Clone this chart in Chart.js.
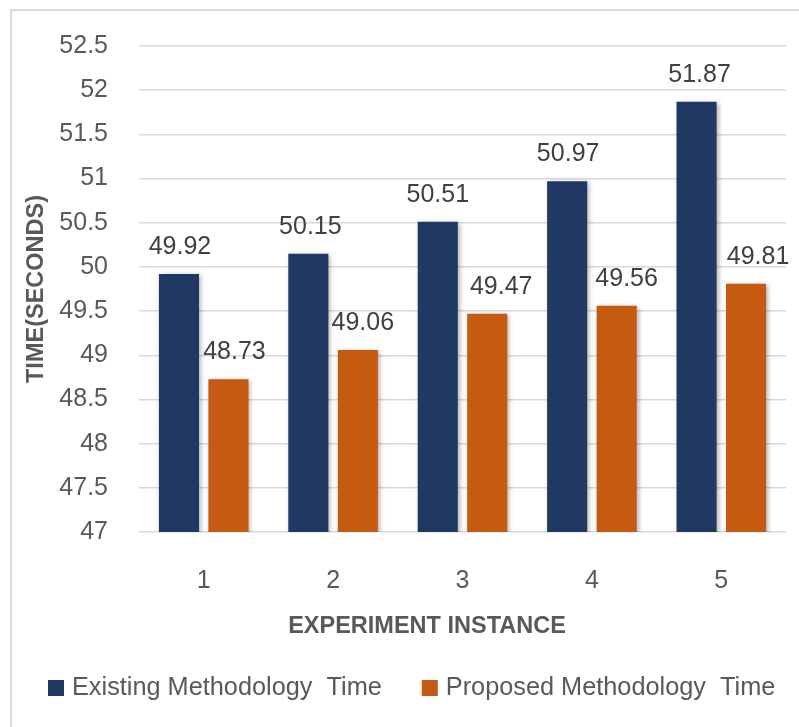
<!DOCTYPE html>
<html>
<head>
<meta charset="utf-8">
<script src="https://cdn.jsdelivr.net/npm/chart.js@4.4.1/dist/chart.umd.min.js"></script>
<style>
  html, body { margin: 0; padding: 0; background: #fff; }
  #wrap { width: 799px; height: 727px; position: relative; }
</style>
</head>
<body>
<div id="wrap"><canvas id="c" width="799" height="727"></canvas></div>
<script>
// Timing per experiment run (seconds)
const instances = ['1', '2', '3', '4', '5'];
const existingTime = [49.92, 50.15, 50.51, 50.97, 51.87];
const proposedTime = [48.73, 49.06, 49.47, 49.56, 49.81];
const seriesNames = ['Existing Methodology  Time', 'Proposed Methodology  Time'];
const xTitle = 'EXPERIMENT INSTANCE';
const yTitle = 'TIME(SECONDS)';

const FONT = "'Liberation Sans', Arial, sans-serif";
const TEXT = '#595959';
const GRID = '#d9d9d9';
// Sideways nudge (px) of each value label relative to its bar centre
const LABEL_NUDGE = [[1, 2, 0, 1, 3], [6, 5, 14, 10, 12]];

// White background plus the thin frame on the left and top edges
const framePlugin = {
  id: 'frame',
  beforeDraw(chart) {
    const ctx = chart.ctx;
    ctx.save();
    ctx.fillStyle = '#fff';
    ctx.fillRect(0, 0, chart.width, chart.height);
    ctx.strokeStyle = GRID;
    ctx.lineWidth = 2;
    ctx.beginPath();
    ctx.moveTo(11, chart.height);
    ctx.lineTo(11, 10);
    ctx.lineTo(chart.width, 10);
    ctx.stroke();
    ctx.restore();
  }
};

// Soft drop shadow under the bars, then value labels above each bar
const barDecor = {
  id: 'barDecor',
  beforeDatasetsDraw(chart) {
    const ctx = chart.ctx;
    ctx.save();
    ctx.shadowColor = 'rgba(0,0,0,0.35)';
    ctx.shadowBlur = 5;
    ctx.shadowOffsetX = 2;
    ctx.shadowOffsetY = 1;
  },
  afterDatasetsDraw(chart) {
    const ctx = chart.ctx;
    ctx.restore();
    ctx.save();
    ctx.font = '25px ' + FONT;
    ctx.fillStyle = '#404040';
    ctx.textAlign = 'center';
    ctx.textBaseline = 'alphabetic';
    chart.data.datasets.forEach((ds, di) => {
      const meta = chart.getDatasetMeta(di);
      meta.data.forEach((bar, i) => {
        ctx.fillText(ds.data[i].toFixed(2), bar.x + LABEL_NUDGE[di][i], bar.y - 20);
      });
    });
    ctx.restore();
  }
};

// Category-axis caption and the series key along the bottom
const bottomText = {
  id: 'bottomText',
  afterDraw(chart) {
    const ctx = chart.ctx;
    ctx.save();
    ctx.font = 'bold 23.5px ' + FONT;
    ctx.fillStyle = TEXT;
    ctx.textAlign = 'center';
    ctx.textBaseline = 'middle';
    ctx.fillText(xTitle, 427, 627);

    ctx.font = '25.3px ' + FONT;
    ctx.textAlign = 'left';
    let x = 48;
    const y = 688;
    chart.data.datasets.forEach(ds => {
      ctx.fillStyle = ds.backgroundColor;
      ctx.fillRect(x, y - 8, 16, 16);
      ctx.fillStyle = TEXT;
      const tx = x + 24;
      ctx.fillText(ds.label, tx, y);
      x = tx + ctx.measureText(ds.label).width + 40;
    });
    ctx.restore();
  }
};

new Chart(document.getElementById('c'), {
  type: 'bar',
  data: {
    labels: instances,
    datasets: [
      { label: seriesNames[0], data: existingTime, backgroundColor: '#203864', borderWidth: 0 },
      { label: seriesNames[1], data: proposedTime, backgroundColor: '#c55a11', borderWidth: 0 }
    ]
  },
  options: {
    responsive: false,
    animation: false,
    devicePixelRatio: 1,
    categoryPercentage: 0.765,
    barPercentage: 0.81,
    layout: { padding: { left: 12, right: 13, top: 45, bottom: 87 } },
    plugins: {
      tooltip: { enabled: false },
      legend: { display: false }
    },
    scales: {
      x: {
        grid: { display: false, drawTicks: false },
        border: { display: false },
        ticks: { color: TEXT, padding: 34, font: { family: FONT, size: 25 } },
        afterFit(scale) { scale.height = 108; }
      },
      y: {
        min: 47,
        max: 52.5,
        grid: { color: GRID, lineWidth: 1.5, drawTicks: false },
        border: { display: false },
        ticks: {
          stepSize: 0.5,
          color: TEXT,
          padding: 31,
          font: { family: FONT, size: 25 },
          callback: v => String(Math.round(v * 10) / 10)
        },
        title: {
          display: true,
          text: yTitle,
          color: TEXT,
          padding: { top: 10, bottom: 0 },
          font: { family: FONT, size: 23.5, weight: 'bold' }
        },
        afterFit(scale) { scale.width = 127; }
      }
    }
  },
  plugins: [framePlugin, barDecor, bottomText]
});
</script>
</body>
</html>
